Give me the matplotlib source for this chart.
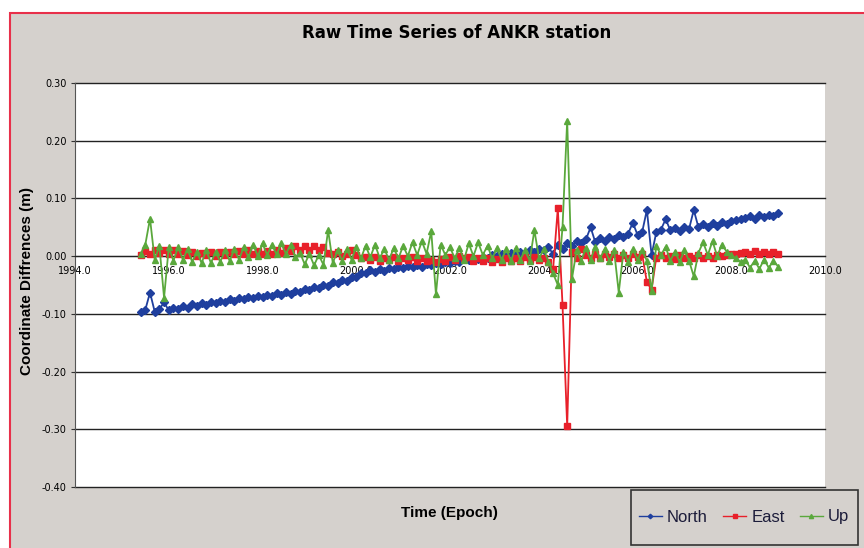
# %%
# Raw time series of ANKR station (North / East / Up coordinate differences)
import matplotlib
matplotlib.use("Agg")
import matplotlib.pyplot as plt
from matplotlib.patches import Rectangle

# %%
# Epochs (decimal years), one sample every 0.1 yr, shared by all three components
epochs = [
    1995.4, 1995.5, 1995.6, 1995.7, 1995.8, 1995.9,
    1996.0, 1996.1, 1996.2, 1996.3, 1996.4, 1996.5, 1996.6, 1996.7, 1996.8, 1996.9,
    1997.0, 1997.1, 1997.2, 1997.3, 1997.4, 1997.5, 1997.6, 1997.7, 1997.8, 1997.9,
    1998.0, 1998.1, 1998.2, 1998.3, 1998.4, 1998.5, 1998.6, 1998.7, 1998.8, 1998.9,
    1999.0, 1999.1, 1999.2, 1999.3, 1999.4, 1999.5, 1999.6, 1999.7, 1999.8, 1999.9,
    2000.0, 2000.1, 2000.2, 2000.3, 2000.4, 2000.5, 2000.6, 2000.7, 2000.8, 2000.9,
    2001.0, 2001.1, 2001.2, 2001.3, 2001.4, 2001.5, 2001.6, 2001.7, 2001.8, 2001.9,
    2002.0, 2002.1, 2002.2, 2002.3, 2002.4, 2002.5, 2002.6, 2002.7, 2002.8, 2002.9,
    2003.0, 2003.1, 2003.2, 2003.3, 2003.4, 2003.5, 2003.6, 2003.7, 2003.8, 2003.9,
    2004.0, 2004.1, 2004.2, 2004.3, 2004.4, 2004.5, 2004.6, 2004.7, 2004.8, 2004.9,
    2005.0, 2005.1, 2005.2, 2005.3, 2005.4, 2005.5, 2005.6, 2005.7, 2005.8, 2005.9,
    2006.0, 2006.1, 2006.2, 2006.3, 2006.4, 2006.5, 2006.6, 2006.7, 2006.8, 2006.9,
    2007.0, 2007.1, 2007.2, 2007.3, 2007.4, 2007.5, 2007.6, 2007.7, 2007.8, 2007.9,
    2008.0, 2008.1, 2008.2, 2008.3, 2008.4, 2008.5, 2008.6, 2008.7, 2008.8, 2008.9,
    2009.0,
]

# North component (m)
north = [
    -0.097, -0.093, -0.063, -0.096, -0.092, -0.080,
    -0.094, -0.089, -0.092, -0.086, -0.089, -0.083, -0.087, -0.082, -0.085, -0.080,
    -0.081, -0.077, -0.079, -0.074, -0.077, -0.072, -0.075, -0.070, -0.073, -0.069,
    -0.071, -0.067, -0.069, -0.064, -0.067, -0.062, -0.065, -0.060, -0.062, -0.057,
    -0.059, -0.054, -0.056, -0.050, -0.052, -0.045, -0.047, -0.041, -0.043, -0.036,
    -0.037, -0.030, -0.029, -0.024, -0.027, -0.022, -0.025, -0.020, -0.023, -0.019,
    -0.021, -0.017, -0.019, -0.015, -0.018, -0.013, -0.016, -0.012, -0.014, -0.010,
    -0.012, -0.008, -0.010, -0.005, -0.007, -0.003, -0.005, -0.001, -0.003, 0.002,
    0.000, 0.004, 0.002, 0.006, 0.003, 0.008, 0.005, 0.010, 0.007, 0.012,
    0.010, 0.015, 0.004, 0.020, 0.012, 0.022, 0.018, 0.026, 0.022, 0.029,
    0.050, 0.024, 0.031, 0.027, 0.034, 0.030, 0.036, 0.033, 0.039, 0.058,
    0.037, 0.042, 0.080, 0.002, 0.041, 0.046, 0.064, 0.045, 0.049, 0.044,
    0.051, 0.047, 0.080, 0.050, 0.055, 0.051, 0.057, 0.053, 0.059, 0.056,
    0.061, 0.063, 0.065, 0.066, 0.070, 0.065, 0.071, 0.067, 0.072, 0.069,
    0.074,
]

# East component (m)
east = [
    0.002, 0.009, 0.004, 0.010, 0.005, 0.011,
    0.004, 0.010, 0.003, 0.009, 0.002, 0.007, 0.001, 0.006, 0.002, 0.008,
    0.001, 0.007, 0.002, 0.008, 0.003, 0.009, 0.004, 0.010, 0.004, 0.009,
    0.003, 0.009, 0.004, 0.010, 0.006, 0.014, 0.009, 0.018, 0.010, 0.017,
    0.011, 0.018, 0.010, 0.016, 0.006, 0.003, 0.007, 0.001, 0.004, 0.010,
    0.002, -0.004, -0.001, -0.007, -0.002, -0.008, -0.003, -0.007, -0.002, -0.008,
    -0.003, -0.007, -0.002, -0.008, -0.004, -0.009, -0.006, -0.011, -0.005, -0.009,
    -0.002, -0.006, 0.000, -0.004, -0.001, -0.008, -0.003, -0.009, -0.004, -0.010,
    -0.005, -0.010, -0.004, -0.009, -0.003, -0.008, -0.002, -0.007, -0.001, -0.006,
    -0.004, -0.010, -0.022, 0.083, -0.084, -0.295, 0.008, -0.004, 0.012, 0.002,
    -0.004, 0.003, -0.003, 0.004, -0.002, 0.003, -0.004, 0.002, -0.003, 0.004,
    -0.002, 0.003, -0.045, -0.058, -0.003, 0.002, -0.004, 0.001, -0.005, 0.002,
    -0.004, 0.001, -0.003, 0.002, -0.004, 0.001, -0.003, 0.002, 0.000, 0.002,
    0.003, 0.004, 0.005, 0.008, 0.004, 0.009, 0.004, 0.008, 0.003, 0.007,
    0.004,
]

# Up component (m)
up = [
    0.004, 0.020, 0.065, -0.006, 0.018, -0.072,
    0.015, -0.008, 0.016, -0.006, 0.012, -0.010, 0.008, -0.012, 0.010, -0.012,
    0.008, -0.010, 0.010, -0.008, 0.012, -0.006, 0.016, -0.002, 0.020, 0.000,
    0.022, 0.002, 0.020, 0.003, 0.022, 0.004, 0.020, -0.002, 0.006, -0.014,
    0.004, -0.016, 0.002, -0.015, 0.045, -0.012, 0.010, -0.008, 0.012, -0.006,
    0.016, -0.004, 0.018, -0.002, 0.020, -0.003, 0.012, -0.006, 0.014, -0.004,
    0.018, 0.000, 0.024, 0.002, 0.026, 0.004, 0.043, -0.066, 0.020, 0.002,
    0.016, -0.004, 0.014, -0.006, 0.022, 0.000, 0.024, 0.002, 0.018, -0.004,
    0.014, -0.006, 0.012, -0.008, 0.014, -0.006, 0.010, -0.008, 0.045, -0.004,
    0.012, -0.010, -0.030, -0.050, 0.050, 0.235, -0.040, 0.010, -0.008, 0.014,
    -0.006, 0.016, -0.004, 0.012, -0.008, 0.010, -0.063, 0.008, -0.010, 0.012,
    -0.006, 0.010, -0.008, -0.060, 0.018, 0.002, 0.016, -0.008, 0.008, -0.010,
    0.010, -0.008, -0.035, 0.006, 0.024, 0.002, 0.026, 0.000, 0.020, 0.008,
    0.002, -0.004, -0.010, -0.006, -0.020, -0.008, -0.022, -0.006, -0.020, -0.008,
    -0.018,
]

y_ticks = [-0.40, -0.30, -0.20, -0.10, 0.00, 0.10, 0.20, 0.30]
x_ticks = [1994.0, 1996.0, 1998.0, 2000.0, 2002.0, 2004.0, 2006.0, 2008.0, 2010.0]

# %%
# Figure with the grey chart area and red outer border
bg = "#d5d1cd"
fig = plt.figure(figsize=(8.64, 5.48), dpi=100, facecolor="white")
fig.patches.append(
    Rectangle((10 / 864, -0.05), 1.2, 1 - 13 / 548 + 0.05, transform=fig.transFigure,
              facecolor=bg, edgecolor="#e8304a", linewidth=1.5, zorder=-10)
)

ax = fig.add_axes([75 / 864, 1 - 487 / 548, 750 / 864, 404 / 548])
ax.set_facecolor("white")

# Series, drawn in the same order as the original (North under East under Up)
ax.plot(epochs, north, color="#1f3f9e", marker="D", markersize=3.8, linewidth=1.3, label="North", zorder=3)
ax.plot(epochs, east, color="#e8202a", marker="s", markersize=3.8, linewidth=1.3, label="East", zorder=4)
ax.plot(epochs, up, color="#5aa83c", marker="^", markersize=5, linewidth=1.3, label="Up", zorder=5)

ax.set_xlim(1994, 2010)
ax.set_ylim(-0.40, 0.30)

# Horizontal grid lines
for yv in y_ticks:
    ax.axhline(yv, color="#222222", linewidth=1, zorder=2, clip_on=False)

ax.set_yticks(y_ticks)
ax.set_yticklabels([f"{v:.2f}" for v in y_ticks], fontsize=7)
ax.tick_params(axis="y", direction="out", length=3, pad=3, color="#333333")

# x axis crosses at y = 0
ax.spines["bottom"].set_position(("data", 0))
ax.spines["bottom"].set_color("#222222")
ax.spines["top"].set_visible(False)
ax.spines["right"].set_visible(False)
ax.spines["left"].set_color("#555555")
ax.set_xticks(x_ticks)
ax.set_xticklabels([f"{v:.1f}" for v in x_ticks], fontsize=7)
ax.tick_params(axis="x", length=0, pad=7)

# Labels and title
fig.text(457 / 864, 1 - 33 / 548, "Raw Time Series of ANKR station", ha="center", va="center",
         fontsize=12, fontweight="bold")
fig.text(27 / 864, 1 - 281 / 548, "Coordinate Diffrences (m)", rotation=90, ha="center", va="center",
         fontsize=11, fontweight="bold", family=["Liberation Sans", "DejaVu Sans"])
fig.text(449 / 864, 1 - 513 / 548, "Time (Epoch)", ha="center", va="center",
         fontsize=11, fontweight="bold", family=["Liberation Sans", "DejaVu Sans"])

# Legend box at bottom right (frame drawn separately to match its proportions)
fig.patches.append(
    Rectangle((631 / 864, 1 - 545 / 548), 227 / 864, 55 / 548, transform=fig.transFigure,
              facecolor=bg, edgecolor="#333333", linewidth=1.2, zorder=5)
)
leg = fig.legend(loc="center", bbox_to_anchor=(744 / 864, 1 - 517 / 548), ncol=3,
                 handlelength=1.4, handletextpad=0.3, columnspacing=0.9,
                 markerscale=0.6, frameon=False,
                 prop={"family": ["Liberation Sans", "DejaVu Sans"], "size": 12})
leg.set_zorder(6)
for line in leg.get_lines():
    line.set_linewidth(1)
for t in leg.get_texts():
    t.set_color("#1c1c3a")

plt.savefig("out.png", dpi=100, facecolor=fig.get_facecolor())
